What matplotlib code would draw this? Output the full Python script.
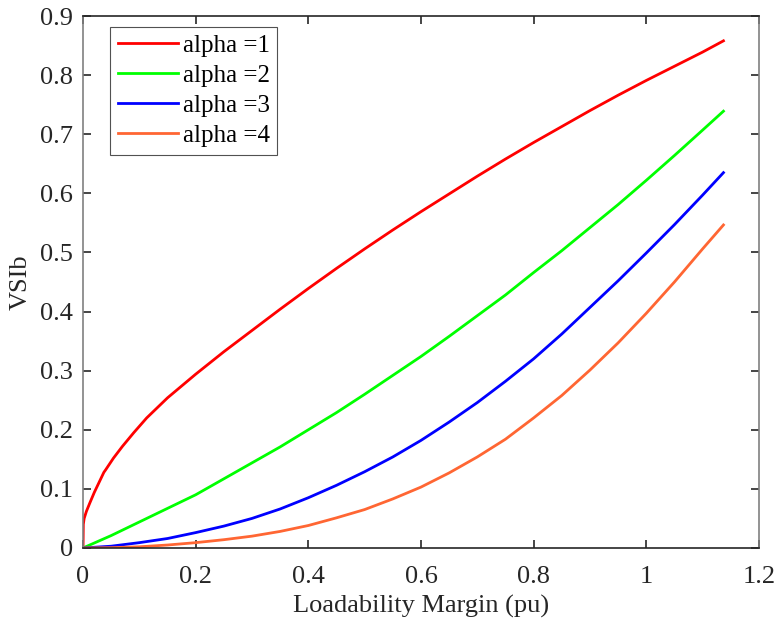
import matplotlib
matplotlib.use('Agg')
import matplotlib.pyplot as plt

# values
x_a1 = [0, 0.0005, 0.002, 0.006, 0.012, 0.02, 0.03, 0.037, 0.04, 0.054, 0.07, 0.09, 0.113,
        0.15, 0.2, 0.25, 0.3, 0.35, 0.4, 0.45, 0.5, 0.55, 0.6, 0.65, 0.7, 0.75, 0.8, 0.85,
        0.9, 0.95, 1.0, 1.05, 1.1, 1.137]
y_a1 = [0, 0.04, 0.05, 0.062, 0.076, 0.094, 0.114, 0.128, 0.132, 0.152, 0.172, 0.195, 0.22,
        0.254, 0.294, 0.332, 0.368, 0.404, 0.439, 0.473, 0.506, 0.538, 0.569, 0.599, 0.629,
        0.658, 0.686, 0.713, 0.74, 0.766, 0.791, 0.815, 0.839, 0.858]

x_a2 = [0, 0.05, 0.1, 0.15, 0.2, 0.25, 0.3, 0.35, 0.4, 0.45, 0.5, 0.55, 0.6, 0.65, 0.7,
        0.75, 0.8, 0.85, 0.9, 0.95, 1.0, 1.05, 1.1, 1.137]
y_a2 = [0, 0.021, 0.044, 0.067, 0.09, 0.117, 0.144, 0.171, 0.2, 0.229, 0.26, 0.292, 0.324,
        0.358, 0.393, 0.428, 0.466, 0.503, 0.542, 0.581, 0.622, 0.664, 0.707, 0.739]

x_a3 = [0, 0.05, 0.1, 0.15, 0.2, 0.25, 0.3, 0.35, 0.4, 0.45, 0.5, 0.55, 0.6, 0.65, 0.7,
        0.75, 0.8, 0.85, 0.9, 0.95, 1.0, 1.05, 1.1, 1.137]
y_a3 = [0, 0.003, 0.009, 0.016, 0.026, 0.037, 0.05, 0.066, 0.085, 0.106, 0.129, 0.154, 0.182,
        0.213, 0.246, 0.282, 0.32, 0.362, 0.407, 0.452, 0.499, 0.547, 0.597, 0.635]

x_a4 = [0, 0.05, 0.1, 0.15, 0.2, 0.25, 0.3, 0.35, 0.4, 0.45, 0.5, 0.55, 0.6, 0.65, 0.7,
        0.75, 0.8, 0.85, 0.9, 0.95, 1.0, 1.05, 1.1, 1.137]
y_a4 = [0, 0.0005, 0.002, 0.005, 0.009, 0.014, 0.02, 0.028, 0.038, 0.051, 0.065, 0.083, 0.103,
        0.127, 0.154, 0.184, 0.22, 0.258, 0.301, 0.347, 0.397, 0.45, 0.506, 0.5465]

labels = ['alpha =1', 'alpha =2', 'alpha =3', 'alpha =4']
colors = ['#FF0000', '#00FF00', '#0000FF', '#FF6633']

plt.rcParams['font.family'] = ['Liberation Serif', 'DejaVu Serif']

fig = plt.figure(figsize=(7.76, 6.21), dpi=100)
ax = fig.add_axes([0.107, 0.1176, 0.871, 0.8566])

for xs, ys, lab, col in zip([x_a1, x_a2, x_a3, x_a4], [y_a1, y_a2, y_a3, y_a4], labels, colors):
    ax.plot(xs, ys, color=col, lw=2, label=lab, solid_joinstyle='round')

ax.set_xlim(0, 1.2)
ax.set_ylim(0, 0.9)
ax.set_xticks([0, 0.2, 0.4, 0.6, 0.8, 1.0, 1.2])
ax.set_xticklabels(['0', '0.2', '0.4', '0.6', '0.8', '1', '1.2'])
ax.set_yticks([i / 10 for i in range(10)])
ax.set_yticklabels(['0'] + [f'0.{i}' for i in range(1, 10)])
ax.tick_params(direction='in', length=6, width=1.2, colors='#262626', labelsize=19,
               top=True, right=True, pad=7)
ax.tick_params(axis='x', pad=13)
for s in ax.spines.values():
    s.set_color('#262626')
    s.set_linewidth(1.2)
ax.spines['left'].set_color('#808080')
ax.spines['right'].set_color('#808080')

ax.set_xlabel('Loadability Margin (pu)', fontsize=19, color='#262626', labelpad=5)
ax.set_ylabel('VSIb', fontsize=19, color='#262626', labelpad=6)

leg = ax.legend(loc='upper left', bbox_to_anchor=(0.04, 0.979), fontsize=18, frameon=True,
                fancybox=False, edgecolor='#262626', handlelength=2.4, handletextpad=0.2,
                labelspacing=0.3, borderpad=0.3, borderaxespad=0)
leg.get_frame().set_linewidth(0.8)

fig.savefig('out.png', dpi=100)
